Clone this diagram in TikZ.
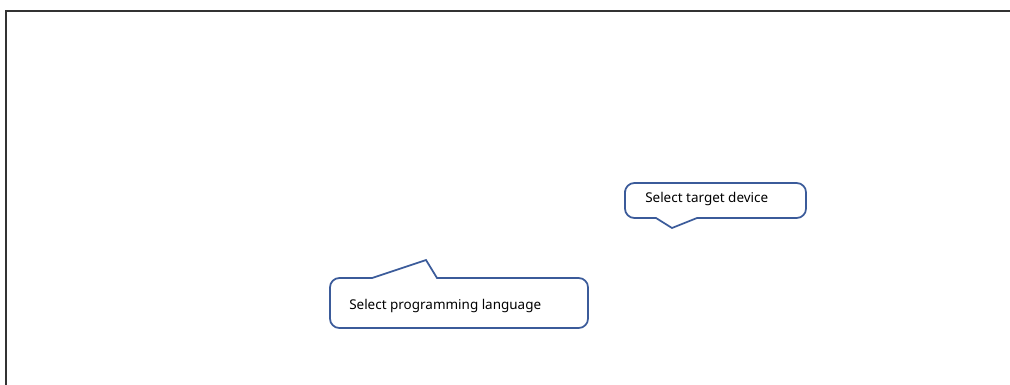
\documentclass[tikz,border=0pt]{standalone}
\usepackage{fontspec}
\setmainfont{Noto Sans}
\definecolor{callblue}{HTML}{3B5B9A}
\definecolor{frame}{HTML}{333333}
\begin{document}
\begin{tikzpicture}[x=0.75pt,y=-0.75pt,
  callout/.style={draw=callblue,line width=1.3pt,fill=white},
  calltext/.style={font=\fontsize{10.1pt}{12pt}\selectfont,anchor=west,inner sep=0pt,text=black},
  framestyle/.style={draw=frame,line width=1.6pt}]
\useasboundingbox (0,0) rectangle (1010,385);
% frame
\draw[framestyle] (6,386) -- (6,11) -- (1011,11);
% callout 1: programming language
\draw[callout] (330,303) [rounded corners=7pt] -- (330,278)
  [sharp corners] -- (372,278) -- (426,260) -- (437,278)
  [rounded corners=7pt] -- (588,278) -- (588,328) -- (330,328) -- cycle;
\node[calltext] (lang) at (349,306) {Select programming language};
% callout 2: target device
\draw[callout] (625,200) [rounded corners=7pt] -- (625,183) -- (806,183) -- (806,218)
  [sharp corners] -- (697,218) -- (672,228) -- (656,218)
  [rounded corners=7pt] -- (625,218) -- cycle;
\node[calltext] (dev) at (645,199) {Select target device};
\end{tikzpicture}
\end{document}
